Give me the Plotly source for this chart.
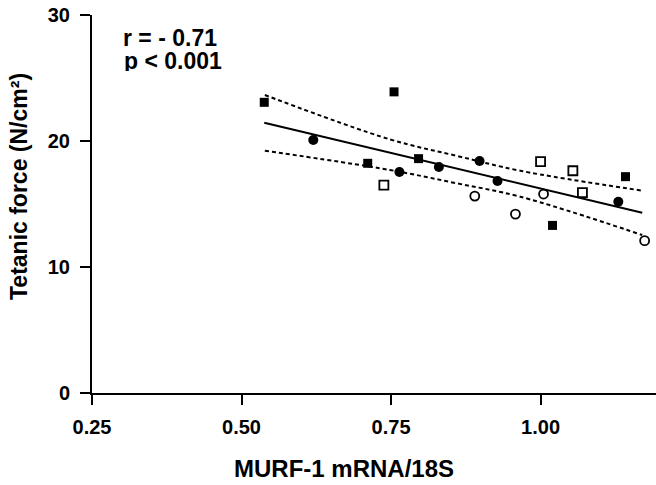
import plotly.graph_objects as go

# Data
fsq_x = [0.538, 0.755, 0.711, 0.796, 1.020, 1.142]
fsq_y = [23.07, 23.90, 18.23, 18.60, 13.30, 17.17]
osq_x = [0.738, 1.000, 1.054, 1.070]
osq_y = [16.50, 18.36, 17.64, 15.90]
fci_x = [0.620, 0.764, 0.830, 0.898, 0.928, 1.130]
fci_y = [20.08, 17.54, 17.94, 18.41, 16.83, 15.18]
oci_x = [0.890, 0.958, 1.005, 1.174]
oci_y = [15.63, 14.20, 15.79, 12.09]

fit_x = [0.538, 1.170]
fit_y = [21.45, 14.30]
band_x = [0.539, 0.748, 0.860, 0.966, 1.170]
band_up = [23.65, 20.13, 18.82, 17.64, 16.06]
band_lo = [19.23, 17.70, 16.64, 15.58, 12.54]

x_ticks = [0.25, 0.50, 0.75, 1.00]
y_ticks = [0, 10, 20, 30]

FONT = "Liberation Sans"

fig = go.Figure()
dash_style = dict(color="black", width=2, dash="4px,3px", shape="spline")
fig.add_trace(go.Scatter(x=band_x, y=band_up, mode="lines", line=dash_style, hoverinfo="skip"))
fig.add_trace(go.Scatter(x=band_x, y=band_lo, mode="lines", line=dash_style, hoverinfo="skip"))
fig.add_trace(go.Scatter(x=fit_x, y=fit_y, mode="lines", line=dict(color="black", width=2), hoverinfo="skip"))

fig.add_trace(go.Scatter(x=fsq_x, y=fsq_y, mode="markers", cliponaxis=False,
                         marker=dict(symbol="square", size=9, color="black", line=dict(width=0))))
fig.add_trace(go.Scatter(x=osq_x, y=osq_y, mode="markers", cliponaxis=False,
                         marker=dict(symbol="square-open", size=9, color="black", line=dict(width=1.8))))
fig.add_trace(go.Scatter(x=fci_x, y=fci_y, mode="markers", cliponaxis=False,
                         marker=dict(symbol="circle", size=10, color="black", line=dict(width=0))))
fig.add_trace(go.Scatter(x=oci_x, y=oci_y, mode="markers", cliponaxis=False,
                         marker=dict(symbol="circle-open", size=9, color="black", line=dict(width=1.8))))

fig.update_layout(
    width=656, height=485,
    margin=dict(l=92, r=0, t=15, b=92),
    plot_bgcolor="white", paper_bgcolor="white",
    showlegend=False,
    font=dict(family=FONT, color="black"),
    xaxis=dict(range=[0.25, 1.193], tickvals=x_ticks, tickformat=".2f",
               showgrid=False, zeroline=False, showline=True, linecolor="black", linewidth=2,
               ticks="outside", ticklen=10, tickwidth=2, tickcolor="black",
               tickfont=dict(family=FONT, size=20, weight="bold", color="black"),
               ticklabelstandoff=5),
    yaxis=dict(range=[0, 30], tickvals=y_ticks,
               showgrid=False, zeroline=False, showline=True, linecolor="black", linewidth=2,
               ticks="outside", ticklen=10, tickwidth=2, tickcolor="black",
               tickfont=dict(family=FONT, size=20, weight="bold", color="black"),
               ticklabelstandoff=6),
    annotations=[
        dict(text="MURF-1 mRNA/18S", xref="paper", yref="paper", x=(344 - 92) / 564, y=-(469 - 393) / 378,
             xanchor="center", yanchor="middle", showarrow=False,
             font=dict(family=FONT, size=24, weight="bold", color="black")),
        dict(text="Tetanic force (N/cm²)", xref="paper", yref="paper", x=-(92 - 19) / 564, y=(393 - 187) / 378,
             xanchor="center", yanchor="middle", textangle=-90, showarrow=False,
             font=dict(family=FONT, size=23, weight="bold", color="black")),
        dict(text="r = - 0.71", xref="paper", yref="paper", x=(121 - 92) / 564, y=(393 - 38) / 378,
             xanchor="left", yanchor="middle", showarrow=False, height=20, valign="middle",
             font=dict(family=FONT, size=23, weight="bold", color="black")),
        dict(text="p < 0.001", xref="paper", yref="paper", x=(122 - 92) / 564, y=(393 - 61) / 378,
             xanchor="left", yanchor="middle", showarrow=False, height=20, valign="middle",
             font=dict(family=FONT, size=23, weight="bold", color="black")),
    ],
)

# remove the default 8px body margin so the figure sits at the page's top-left corner
fig.write_html("out.html", config={"displayModeBar": False},
               post_script="document.body.style.margin='0';")
